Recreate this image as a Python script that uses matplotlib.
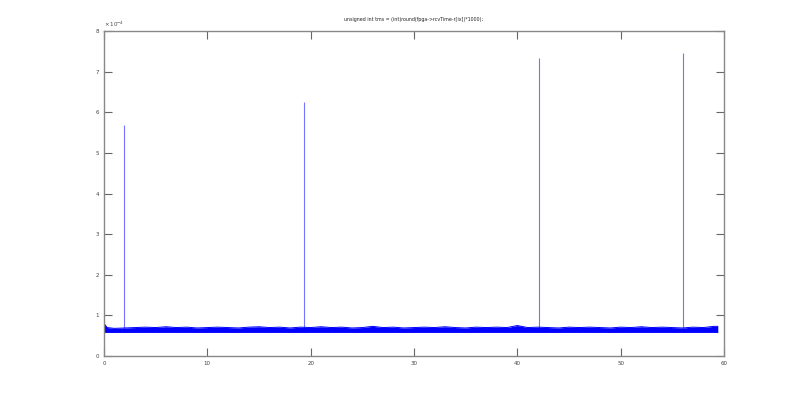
import numpy as np
import matplotlib.pyplot as plt

# time axis of the baseline band (s), about one sample per second
band_t = [0, 0.3, 1, 2, 3, 4, 5, 6, 7, 8, 9, 10, 11, 12, 13, 14, 15, 16, 17, 18, 19,
          20, 21, 22, 23, 24, 25, 26, 27, 28, 29, 30, 31, 32, 33, 34, 35, 36, 37, 38, 39,
          40, 41, 42, 43, 44, 45, 46, 47, 48, 49, 50, 51, 52, 53, 54, 55, 56, 57, 58, 59, 59.4]
# lower and upper edge of the noisy baseline (x1e-4)
band_lo = [0.58] * len(band_t)
band_hi = [0.80, 0.70, 0.68, 0.69, 0.70, 0.71, 0.70, 0.72, 0.70, 0.71, 0.69, 0.70, 0.71, 0.70, 0.69, 0.71, 0.72,
           0.70, 0.71, 0.69, 0.71, 0.70, 0.72, 0.70, 0.71, 0.69, 0.70, 0.73, 0.70, 0.71, 0.69, 0.70,
           0.71, 0.70, 0.72, 0.70, 0.69, 0.71, 0.70, 0.71, 0.70, 0.75, 0.70, 0.71, 0.70, 0.69, 0.71,
           0.70, 0.71, 0.70, 0.69, 0.71, 0.70, 0.72, 0.70, 0.71, 0.70, 0.69, 0.71, 0.70, 0.73, 0.73]

# the four spikes
spike_t = [1.95, 19.4, 42.1, 56.0]
spike_v = [5.68, 6.25, 7.33, 7.45]

fig = plt.figure(figsize=(8, 4), dpi=100)
ax = fig.add_axes([0.13, 0.11, 0.775, 0.8125])

ax.fill_between(band_t, band_lo, band_hi, color='#0000ff', lw=0)
ax.plot(band_t, band_hi, color='#0000ff', lw=0.7)
ax.vlines(spike_t, 0.6, spike_v, color='#0000ff', lw=0.8, alpha=0.55)

ax.set_xlim(0, 60)
ax.set_ylim(0, 8)
ax.set_xticks(range(0, 61, 10))
ax.set_yticks(range(0, 9))
ax.tick_params(direction='in', length=6, width=0.8, colors='#666666', labelsize=4,
               top=True, right=True, labelcolor='#444444')
for s in ax.spines.values():
    s.set_color('#888888')
    s.set_linewidth(1.0)
ax.text(0, 1.005, r'$\times\,10^{-4}$', transform=ax.transAxes, fontsize=4, color='#444444',
        ha='left', va='bottom')
ax.set_title('unsigned int tms = (int)round(fpga->rcvTime-r[ix])*1000);', fontsize=3.4, color='#222222', pad=7)

fig.savefig('out.png', dpi=100, facecolor='white')
